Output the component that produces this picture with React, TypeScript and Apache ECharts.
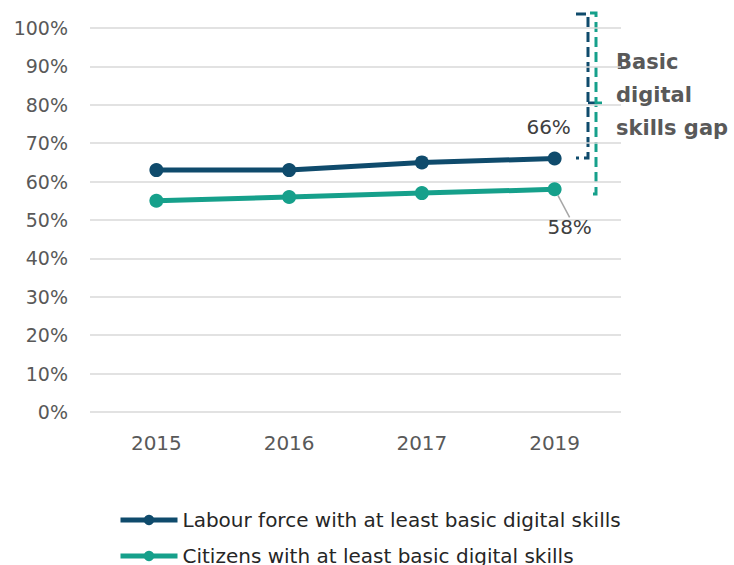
import React, { useEffect, useRef } from "react";
import * as echarts from "echarts";

const years = ["2015", "2016", "2017", "2019"];
const labourForce = [63, 63, 65, 66];
const citizens = [55, 56, 57, 58];
const seriesNames = [
  "Labour force with at least basic digital skills",
  "Citizens with at least basic digital skills",
];
const gapLabel = "Basic\ndigital\nskills gap";

const NAVY = "#0F4B6C";
const TEAL = "#16A08B";
const FONT = "DejaVu Sans";

export default function App() {
  const ref = useRef<HTMLDivElement>(null);
  useEffect(() => {
    if (!ref.current) return;
    const chart = echarts.init(ref.current, undefined, { renderer: "svg" });
    const lastLabel = (arr: number[]) =>
      arr.map((v, i) => (i === arr.length - 1 ? { value: v, label: { show: true } } : v));
    const legendBase = {
      orient: "vertical",
      left: 113,
      itemWidth: 57,
      itemHeight: 13,
      lineStyle: { width: 5 },
      textStyle: { color: "#262626", fontSize: 20, fontFamily: FONT },
    };
    chart.setOption({
      animation: false,
      textStyle: { fontFamily: FONT },
      grid: { left: 90, right: 113, top: 28, bottom: 153 },
      xAxis: {
        type: "category",
        data: years,
        boundaryGap: true,
        axisLine: { show: false },
        axisTick: { show: false },
        axisLabel: { color: "#595959", fontSize: 20, margin: 21, fontFamily: FONT },
      },
      yAxis: {
        type: "value",
        min: 0,
        max: 100,
        interval: 10,
        axisLabel: {
          color: "#595959",
          fontSize: 19,
          margin: 22,
          fontFamily: FONT,
          formatter: "{value}%",
        },
        splitLine: { lineStyle: { color: "#D9D9D9", width: 1.5 } },
      },
      legend: [
        { ...legendBase, top: 505, data: [seriesNames[0]] },
        { ...legendBase, top: 541, data: [seriesNames[1]] },
      ],
      series: [
        {
          name: seriesNames[0],
          type: "line",
          data: lastLabel(labourForce),
          symbol: "circle",
          symbolSize: 14,
          lineStyle: { color: NAVY, width: 5 },
          itemStyle: { color: NAVY },
          label: {
            show: false,
            position: "top",
            distance: 15,
            offset: [-6, 0],
            formatter: "{c}%",
            color: "#404040",
            fontSize: 20,
            fontFamily: FONT,
          },
        },
        {
          name: seriesNames[1],
          type: "line",
          data: lastLabel(citizens),
          symbol: "circle",
          symbolSize: 14,
          lineStyle: { color: TEAL, width: 5 },
          itemStyle: { color: TEAL },
          label: {
            show: false,
            position: "bottom",
            distance: 6,
            formatter: "{c}%",
            color: "#404040",
            fontSize: 20,
            fontFamily: FONT,
          },
          labelLayout: { dx: 15, dy: 15 },
          labelLine: { show: true, lineStyle: { color: "#A6A6A6", width: 1.5 } },
        },
      ],
      graphic: [
        {
          type: "polyline",
          shape: { points: [[576, 14], [588, 14], [588, 158], [576, 158]] },
          style: { stroke: NAVY, lineWidth: 3, fill: null, lineDash: [10, 5] },
        },
        {
          type: "line",
          shape: { x1: 588, y1: 103, x2: 596, y2: 103 },
          style: { stroke: NAVY, lineWidth: 3 },
        },
        {
          type: "polyline",
          shape: { points: [[590, 13], [596, 13], [596, 194], [591, 194]] },
          style: { stroke: TEAL, lineWidth: 3, fill: null, lineDash: [10, 5] },
        },
        {
          type: "line",
          shape: { x1: 596, y1: 103, x2: 602, y2: 103 },
          style: { stroke: TEAL, lineWidth: 3 },
        },
        {
          type: "text",
          left: 616,
          top: 45,
          style: {
            text: gapLabel,
            fill: "#595959",
            font: `bold 21px "${FONT}"`,
            lineHeight: 33,
          },
        },
      ],
    });
    return () => chart.dispose();
  }, []);
  return <div ref={ref} style={{ width: 734, height: 565, position: "absolute", left: 0, top: 0 }} />;
}
